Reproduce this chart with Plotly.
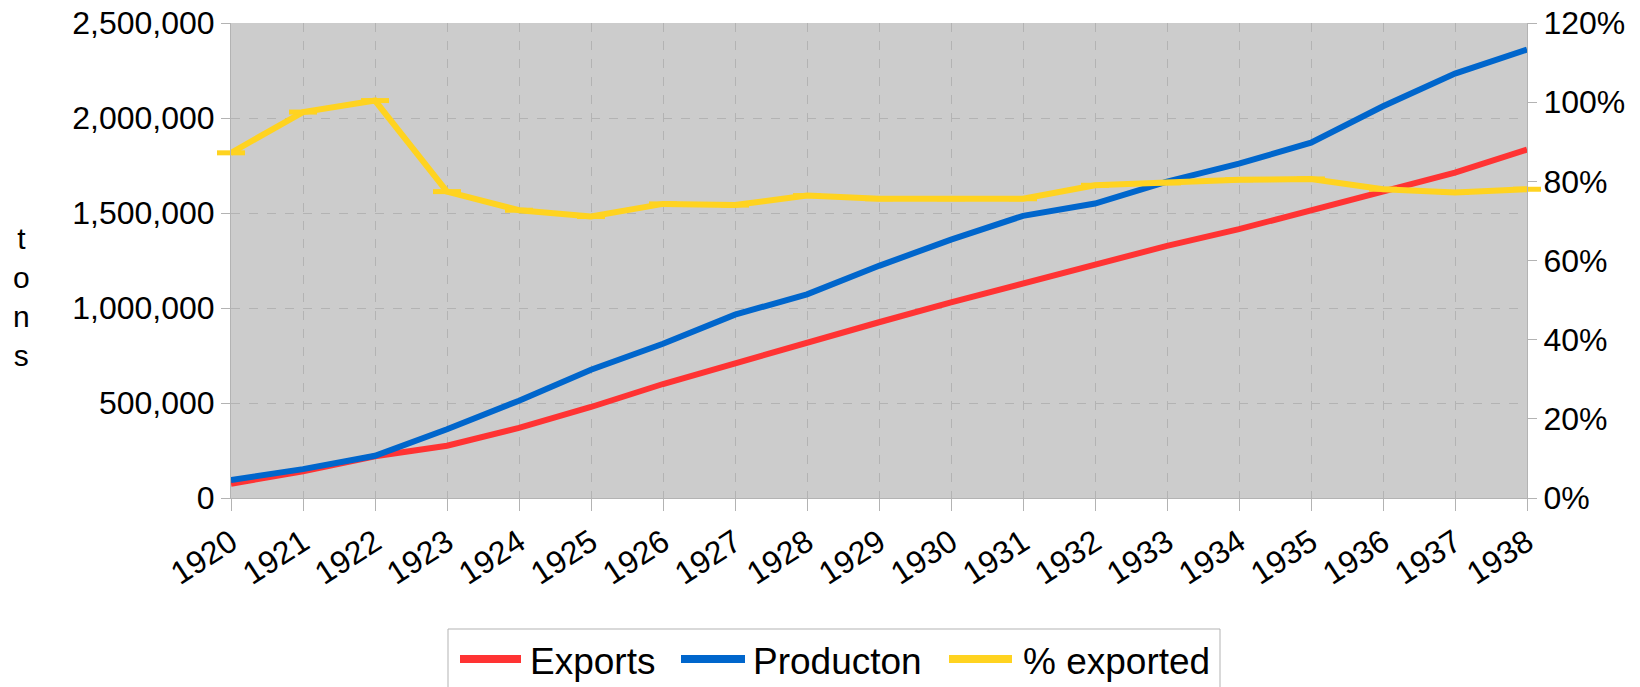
import plotly.graph_objects as go

years = list(range(1920, 1939))
exports = [75000, 140000, 220000, 275000, 369000, 479000, 600000, 710000, 820000, 925000,
           1030000, 1129000, 1228000, 1327000, 1415000, 1514000, 1608000, 1713000, 1834000]
production = [95000, 152000, 222000, 362000, 512000, 675000, 812000, 965000, 1072000, 1222000,
              1360000, 1485000, 1550000, 1665000, 1760000, 1870000, 2062000, 2234000, 2360000]
pct_exported = [0.872, 0.975, 1.004, 0.774, 0.727, 0.711, 0.743, 0.740, 0.764, 0.756,
                0.756, 0.756, 0.790, 0.796, 0.804, 0.806, 0.780, 0.772, 0.780]
series_names = ["Exports", "Producton", "% exported"]

RED = "#ff3333"
BLUE = "#0066cc"
YELLOW = "#ffd320"
GRID = "#b3b3b3"
FONT = "Liberation Sans, Arial, sans-serif"

W, H = 1640, 687
ML, MR, MT, MB = 231, 113, 23, 189
PW, PH = W - ML - MR, H - MT - MB


def px(x):
    """pixel column -> paper x"""
    return (x - ML) / PW


def py(y):
    """pixel row -> paper y"""
    return (H - MB - y) / PH


fig = go.Figure()
fig.add_trace(go.Scatter(x=years, y=exports, name=series_names[0], mode="lines",
                         line=dict(color=RED, width=6)))
fig.add_trace(go.Scatter(x=years, y=production, name=series_names[1], mode="lines",
                         line=dict(color=BLUE, width=6)))
fig.add_trace(go.Scatter(x=years, y=pct_exported, name=series_names[2], mode="lines+markers",
                         yaxis="y2", line=dict(color=YELLOW, width=6),
                         marker=dict(symbol="line-ew", size=20,
                                     line=dict(color=YELLOW, width=5)),
                         cliponaxis=False))

fig.update_layout(
    width=W, height=H,
    margin=dict(l=ML, r=MR, t=MT, b=MB, autoexpand=False),
    paper_bgcolor="white",
    plot_bgcolor="#cccccc",
    font=dict(family=FONT, size=32, color="black"),
    showlegend=False,
    xaxis=dict(range=[1920, 1938], dtick=1, tick0=1920, tickangle=-33,
               showgrid=True, gridcolor=GRID, griddash="dash", gridwidth=1,
               showline=True, linecolor=GRID, linewidth=1,
               ticks="outside", ticklen=12, tickcolor=GRID, zeroline=False),
    yaxis=dict(range=[0, 2500000], dtick=500000, tickformat=",",
               showgrid=True, gridcolor=GRID, griddash="dash", gridwidth=1,
               showline=True, linecolor=GRID, linewidth=1,
               ticks="outside", ticklen=9, tickcolor=GRID, zeroline=False),
    yaxis2=dict(range=[0, 1.2], dtick=0.2, tickformat=".0%", overlaying="y", side="right",
                showgrid=False, showline=True, linecolor=GRID, linewidth=1,
                ticks="outside", ticklen=9, tickcolor=GRID, zeroline=False),
)

# vertical stacked axis title
fig.add_annotation(text="t<br>o<br>n<br>s", xref="paper", yref="paper",
                   x=px(21), y=py(297), xanchor="center", yanchor="middle",
                   showarrow=False, font=dict(size=30, family=FONT, color="black"),
                   align="center")

# legend box below the plot
fig.add_shape(type="rect", xref="paper", yref="paper",
              x0=px(448), x1=px(1220), y0=py(629), y1=py(720),
              line=dict(color=GRID, width=1), fillcolor="white", layer="above")
legend_items = [
    (series_names[0], RED, 460, 521, 528),
    (series_names[1], BLUE, 681, 745, 751),
    (series_names[2], YELLOW, 949, 1012, 1021),
]
ly = 659
for name, color, x0, x1, xt in legend_items:
    fig.add_shape(type="line", xref="paper", yref="paper",
                  x0=px(x0), x1=px(x1), y0=py(ly), y1=py(ly),
                  line=dict(color=color, width=8), layer="above")
    fig.add_annotation(text=name, xref="paper", yref="paper",
                       x=px(xt), y=py(ly + 2), xanchor="left", yanchor="middle",
                       showarrow=False, font=dict(size=37, family=FONT, color="black"))

fig.write_html("out.html")
